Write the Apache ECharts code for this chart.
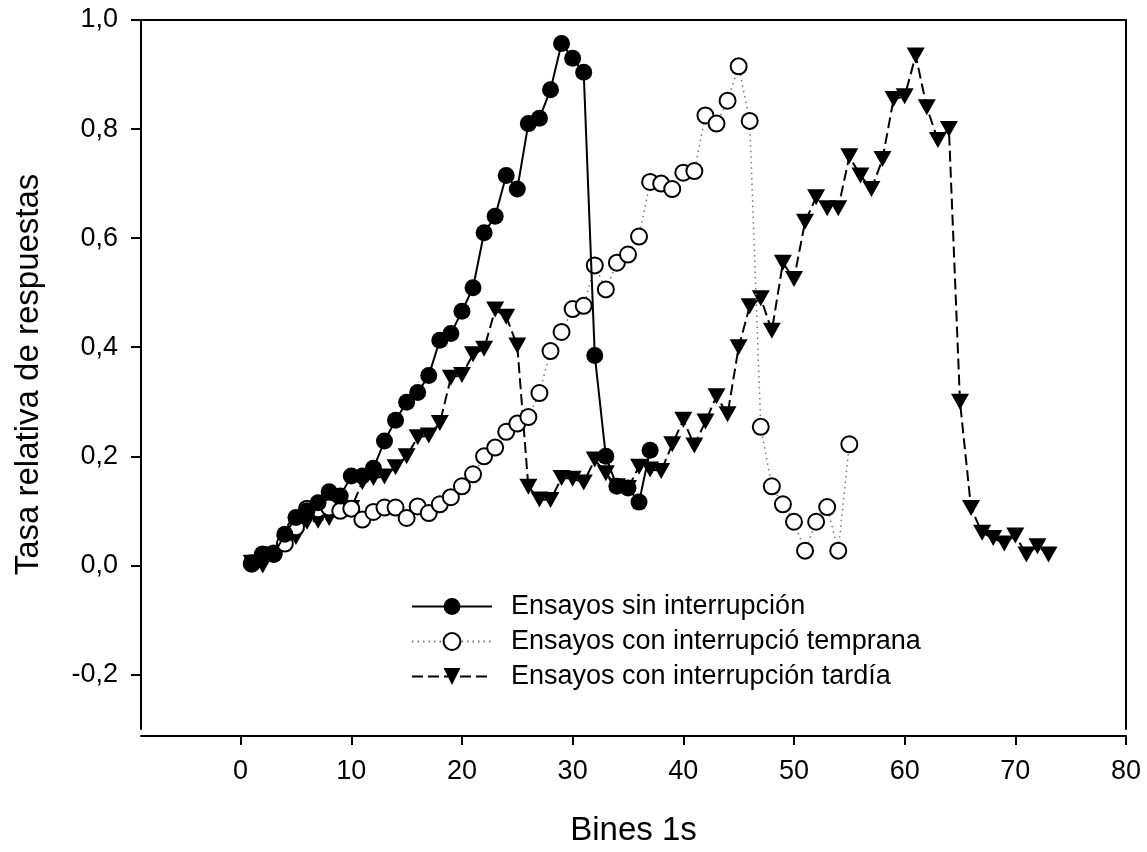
<!DOCTYPE html>
<html>
<head>
<meta charset="utf-8">
<script src="https://cdn.jsdelivr.net/npm/echarts@6/dist/echarts.min.js"></script>
<style>html,body{margin:0;padding:0;background:#fff;}#chart{width:1147px;height:852px;}</style>
</head>
<body>
<div id="chart"></div>
<script>
// ---- data ----
const seriesNames = ['Ensayos sin interrupción', 'Ensayos con interrupció temprana', 'Ensayos con interrupción tardía'];

const binsSin = [1,2,3,4,5,6,7,8,9,10,11,12,13,14,15,16,17,18,19,20,21,22,23,24,25,26,27,28,29,30,31,32,33,34,35,36,37];
const valSin = [0.005,0.02,0.02,0.057,0.088,0.1,0.115,0.135,0.127,0.164,0.164,0.178,0.228,0.266,0.299,0.317,0.348,0.413,0.425,0.466,0.509,0.61,0.64,0.715,0.69,0.81,0.82,0.872,0.957,0.93,0.904,0.385,0.2,0.145,0.142,0.116,0.211];

const binsTemp = [1,2,3,4,5,6,7,8,9,10,11,12,13,14,15,16,17,18,19,20,21,22,23,24,25,26,27,28,29,30,31,32,33,34,35,36,37,38,39,40,41,42,43,44,45,46,47,48,49,50,51,52,53,54,55];
const valTemp = [0.003,0.02,0.022,0.04,0.07,0.104,0.103,0.106,0.1,0.104,0.084,0.098,0.106,0.106,0.087,0.108,0.096,0.112,0.125,0.145,0.167,0.2,0.216,0.245,0.26,0.272,0.316,0.393,0.428,0.47,0.476,0.55,0.506,0.555,0.57,0.603,0.703,0.7,0.69,0.72,0.723,0.825,0.81,0.852,0.915,0.815,0.254,0.145,0.112,0.08,0.027,0.08,0.107,0.027,0.222];

const binsTard = [1,2,3,4,5,6,7,8,9,10,11,12,13,14,15,16,17,18,19,20,21,22,23,24,25,26,27,28,29,30,31,32,33,34,35,36,37,38,39,40,41,42,43,44,45,46,47,48,49,50,51,52,53,54,55,56,57,58,59,60,61,62,63,64,65,66,67,68,69,70,71,72,73];
const valTard = [0.005,0.0,0.02,0.04,0.052,0.08,0.082,0.087,0.1,0.105,0.153,0.16,0.163,0.18,0.2,0.235,0.238,0.261,0.344,0.349,0.387,0.397,0.469,0.456,0.403,0.144,0.121,0.12,0.16,0.159,0.152,0.194,0.169,0.145,0.142,0.181,0.176,0.173,0.222,0.267,0.22,0.264,0.31,0.277,0.4,0.475,0.49,0.43,0.555,0.525,0.63,0.675,0.655,0.655,0.75,0.715,0.69,0.745,0.855,0.86,0.935,0.84,0.78,0.8,0.3,0.105,0.06,0.05,0.04,0.055,0.02,0.035,0.02];

const xTicks = [0,10,20,30,40,50,60,70,80];
const yTicks = [-0.2,0,0.2,0.4,0.6,0.8,1.0];
const xTitle = 'Bines 1s';
const yTitle = 'Tasa relativa de respuestas';

// ---- chart ----
const pairs = (xs, ys) => xs.map((x, i) => [x, ys[i]]);
const FONT = 'Liberation Sans';
const tri = 'path://M0,0L20,0L10,17Z';

const chart = echarts.init(document.getElementById('chart'), null, {renderer: 'canvas'});
chart.setOption({
  animation: false,
  backgroundColor: '#fff',
  textStyle: {fontFamily: FONT, color: '#000'},
  grid: {left: 141, right: 21, top: 20, bottom: 122},
  legend: {
    orient: 'vertical', left: 406, top: 588,
    itemWidth: 80, itemHeight: 21, itemGap: 8,
    textStyle: {fontFamily: FONT, fontSize: 27, color: '#000', lineHeight: 27, padding: [0,0,0,14]},
    data: seriesNames
  },
  xAxis: [{
    type: 'value', min: -9, max: 80, position: 'bottom', offset: 7,
    name: xTitle, nameLocation: 'middle', nameGap: 78,
    nameTextStyle: {fontFamily: FONT, fontSize: 33, color: '#000'},
    axisLine: {show: true, onZero: false, lineStyle: {color: '#000', width: 2}},
    axisTick: {show: true, length: 9, lineStyle: {color: '#000', width: 2}, customValues: xTicks},
    axisLabel: {fontFamily: FONT, fontSize: 27, color: '#000', margin: 22, customValues: xTicks},
    splitLine: {show: false}
  }, {
    type: 'value', min: -9, max: 80, position: 'top',
    axisLine: {show: true, onZero: false, lineStyle: {color: '#000', width: 2}},
    axisTick: {show: false}, axisLabel: {show: false}, splitLine: {show: false}
  }],
  yAxis: [{
    type: 'value', min: -0.3, max: 1.0, position: 'left',
    name: yTitle, nameLocation: 'middle', nameGap: 96,
    nameTextStyle: {fontFamily: FONT, fontSize: 33, color: '#000'},
    axisLine: {show: true, onZero: false, lineStyle: {color: '#000', width: 2}},
    axisTick: {show: true, length: 10, lineStyle: {color: '#000', width: 2}, customValues: yTicks},
    axisLabel: {fontFamily: FONT, fontSize: 27, color: '#000', margin: 23, customValues: yTicks,
      formatter: v => (Math.abs(v) < 1e-9 ? 0 : v).toFixed(1).replace('.', ',')},
    splitLine: {show: false}
  }, {
    type: 'value', min: -0.3, max: 1.0, position: 'right',
    axisLine: {show: true, onZero: false, lineStyle: {color: '#000', width: 2}},
    axisTick: {show: false}, axisLabel: {show: false}, splitLine: {show: false}
  }],
  series: [{
    name: seriesNames[0], type: 'line', data: pairs(binsSin, valSin),
    symbol: 'circle', symbolSize: 17, showAllSymbol: true,
    lineStyle: {color: '#000', width: 2, type: 'solid'},
    itemStyle: {color: '#000', borderColor: '#000', borderWidth: 0},
    z: 4
  }, {
    name: seriesNames[1], type: 'line', data: pairs(binsTemp, valTemp),
    symbol: 'circle', symbolSize: 16, showAllSymbol: true,
    lineStyle: {color: '#777', width: 1.5, type: [1.5, 4]},
    itemStyle: {color: '#fff', borderColor: '#000', borderWidth: 2},
    z: 3
  }, {
    name: seriesNames[2], type: 'line', data: pairs(binsTard, valTard),
    symbol: tri, symbolSize: [18, 16], showAllSymbol: true,
    lineStyle: {color: '#000', width: 2, type: [11, 5]},
    itemStyle: {color: '#000', borderColor: '#000', borderWidth: 0},
    z: 2
  }]
});
</script>
</body>
</html>
